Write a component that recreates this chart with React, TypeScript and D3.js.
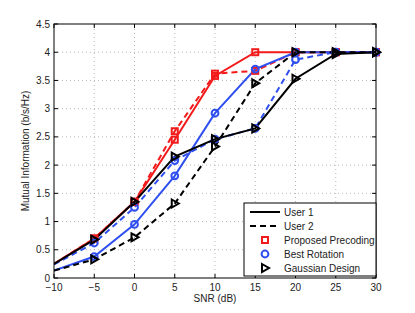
import React from "react";
import * as d3 from "d3";

const snr = [-10, -5, 0, 5, 10, 15, 20, 25, 30];

const proposedUser1 = [0.25, 0.7, 1.35, 2.45, 3.58, 4.0, 4.0, 4.0, 4.0];
const proposedUser2 = [0.25, 0.7, 1.35, 2.6, 3.62, 3.67, 4.0, 4.0, 4.0];
const rotationUser1 = [0.13, 0.38, 0.95, 1.81, 2.92, 3.7, 4.0, 4.0, 4.0];
const rotationUser2 = [0.24, 0.62, 1.25, 2.08, 2.46, 2.65, 3.87, 4.0, 4.0];
const gaussianUser1 = [0.25, 0.68, 1.35, 2.15, 2.46, 2.65, 3.53, 3.97, 4.0];
const gaussianUser2 = [0.13, 0.33, 0.72, 1.32, 2.33, 3.45, 4.0, 4.0, 4.0];

const xTicks = [-10, -5, 0, 5, 10, 15, 20, 25, 30];
const yTicks = [0, 0.5, 1, 1.5, 2, 2.5, 3, 3.5, 4, 4.5];

const RED = "#f21a1a";
const BLUE = "#2f4ff0";
const BLACK = "#000000";

type Series = { values: number[]; color: string; dashed: boolean; marker: string };

const series: Series[] = [
  { values: proposedUser1, color: RED, dashed: false, marker: "square" },
  { values: proposedUser2, color: RED, dashed: true, marker: "square" },
  { values: rotationUser1, color: BLUE, dashed: false, marker: "circle" },
  { values: rotationUser2, color: BLUE, dashed: true, marker: "circle" },
  { values: gaussianUser1, color: BLACK, dashed: false, marker: "triangle" },
  { values: gaussianUser2, color: BLACK, dashed: true, marker: "triangle" },
];

function Marker({ kind, x, y, color }: { kind: string; x: number; y: number; color: string }) {
  if (kind === "square") {
    return <rect x={x - 3} y={y - 3} width={6} height={6} fill="none" stroke={color} strokeWidth={2} />;
  }
  if (kind === "circle") {
    return <circle cx={x} cy={y} r={3.4} fill="none" stroke={color} strokeWidth={2} />;
  }
  return (
    <path
      d={`M${x - 3},${y - 4}L${x + 4},${y}L${x - 3},${y + 4}Z`}
      fill="none"
      stroke={color}
      strokeWidth={2}
      strokeLinejoin="miter"
    />
  );
}

export default function App() {
  const width = 415;
  const height = 313;
  const margin = { left: 54, top: 24, right: 39, bottom: 35 };
  const x = d3.scaleLinear().domain([-10, 30]).range([margin.left, width - margin.right]);
  const y = d3.scaleLinear().domain([0, 4.5]).range([height - margin.bottom, margin.top]);
  const x0 = x.range()[0];
  const x1 = x.range()[1];
  const y0 = y.range()[0];
  const y1 = y.range()[1];

  const line = d3
    .line<number>()
    .x((_, i) => x(snr[i]))
    .y((d) => y(d));

  const font = "'Liberation Sans', Arial, sans-serif";

  const legendX = 244;
  const legendY = 203;
  const legendW = x1 - legendX;
  const legendH = 73;
  const rowH = 14;

  return (
    <svg
      width={width}
      height={height}
      style={{ position: "absolute", left: 0, top: 0, background: "#fff" }}
      fontFamily={font}
    >
      <rect x={0} y={0} width={width} height={height} fill="#fff" />
      {/* grid */}
      {xTicks.slice(1, -1).map((t) => (
        <line key={"gx" + t} x1={x(t)} x2={x(t)} y1={y0} y2={y1} stroke="#999" strokeWidth={0.7} strokeDasharray="1,3" />
      ))}
      {yTicks.slice(1, -1).map((t) => (
        <line key={"gy" + t} x1={x0} x2={x1} y1={y(t)} y2={y(t)} stroke="#999" strokeWidth={0.7} strokeDasharray="1,3" />
      ))}

      <defs>
        <clipPath id="plotclip">
          <rect x={x0} y={y1 - 6} width={x1 - x0 + 6} height={y0 - y1 + 6} />
        </clipPath>
      </defs>

      <g clipPath="url(#plotclip)">
        {series.map((s, i) => (
          <path
            key={"l" + i}
            d={line(s.values) || ""}
            fill="none"
            stroke={s.color}
            strokeWidth={2}
            strokeDasharray={s.dashed ? "6,4" : undefined}
          />
        ))}
      </g>
      {series.map((s, i) => (
        <g key={"m" + i}>
          {s.values.map((v, j) =>
            j === 0 ? null : <Marker key={j} kind={s.marker} x={x(snr[j])} y={y(v)} color={s.color} />
          )}
        </g>
      ))}

      {/* axes box */}
      <rect x={x0} y={y1} width={x1 - x0} height={y0 - y1} fill="none" stroke="#000" strokeWidth={1} />
      {xTicks.map((t) => (
        <g key={"tx" + t}>
          <line x1={x(t)} x2={x(t)} y1={y0} y2={y0 - 4} stroke="#000" />
          <line x1={x(t)} x2={x(t)} y1={y1} y2={y1 + 4} stroke="#000" />
          <text x={x(t)} y={y0 + 13} textAnchor="middle" fontSize={10} fill="#222">
            {t < 0 ? "\u2212" + Math.abs(t) : t}
          </text>
        </g>
      ))}
      {yTicks.map((t) => (
        <g key={"ty" + t}>
          <line x1={x0} x2={x0 + 4} y1={y(t)} y2={y(t)} stroke="#000" />
          <line x1={x1} x2={x1 - 4} y1={y(t)} y2={y(t)} stroke="#000" />
          <text x={x0 - 4} y={y(t) + 3.5} textAnchor="end" fontSize={10} fill="#222">
            {t}
          </text>
        </g>
      ))}

      <text x={(x0 + x1) / 2} y={y0 + 24} textAnchor="middle" fontSize={10} fill="#222">
        SNR (dB)
      </text>
      <text
        transform={`translate(${x0 - 25},${(y0 + y1) / 2}) rotate(-90)`}
        textAnchor="middle"
        fontSize={10}
        fill="#222"
      >
        Mutual Information (b/s/Hz)
      </text>

      {/* legend */}
      <rect x={legendX} y={legendY} width={legendW} height={legendH} fill="#fff" stroke="#000" strokeWidth={1} />
      <line x1={legendX + 6} x2={legendX + 36} y1={legendY + 9} y2={legendY + 9} stroke="#000" strokeWidth={2} />
      <line x1={legendX + 6} x2={legendX + 36} y1={legendY + 9 + rowH} y2={legendY + 9 + rowH} stroke="#000" strokeWidth={2} strokeDasharray="6,4" />
      <Marker kind="square" x={legendX + 21} y={legendY + 9 + rowH * 2} color={RED} />
      <Marker kind="circle" x={legendX + 21} y={legendY + 9 + rowH * 3} color={BLUE} />
      <Marker kind="triangle" x={legendX + 21} y={legendY + 9 + rowH * 4} color={BLACK} />
      {["User 1", "User 2", "Proposed Precoding", "Best Rotation", "Gaussian Design"].map((label, i) => (
        <text key={label} x={legendX + 40} y={legendY + 12.5 + rowH * i} fontSize={10} fill="#222">
          {label}
        </text>
      ))}
    </svg>
  );
}
